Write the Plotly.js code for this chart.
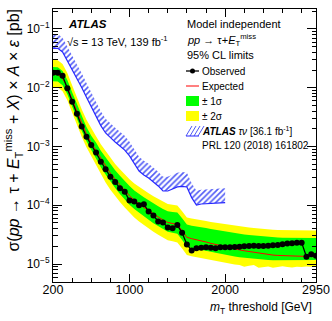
<!DOCTYPE html>
<html>
<head>
<meta charset="utf-8">
<script src="https://cdn.plot.ly/plotly-3.0.1.min.js"></script>
<style>
  html, body { margin: 0; padding: 0; background: white; }
  #chart { width: 332px; height: 321px; }
</style>
</head>
<body>
<div id="chart"></div>
<script>
// mT thresholds [GeV]
const mt_threshold = [
    200, 250, 300, 350, 400, 450, 500, 550, 600, 650,
    700, 750, 800, 850, 900, 950, 1000, 1050, 1100, 1150,
    1200, 1250, 1300, 1350, 1400, 1450, 1500, 1550, 1600, 1650,
    1700, 1750, 1800, 1850, 1900, 1950, 2000, 2050, 2100, 2150,
    2200, 2250, 2300, 2350, 2400, 2450, 2500, 2550, 2600, 2650,
    2700, 2750, 2800, 2850, 2900, 2950
];

// observed 95% CL limit [pb]
const observed = [
    1.80e-2, 1.80e-2, 1.60e-2, 9.8e-3, 5.8e-3, 3.6e-3, 2.2e-3, 1.47e-3, 1.06e-3, 7.9e-4,
    5.5e-4, 4.1e-4, 3.06e-4, 2.5e-4, 1.94e-4, 1.7e-4, 1.2e-4, 1.16e-4, 1.0e-4, 1.04e-4,
    7.8e-5, 6.7e-5, 5.3e-5, 5.1e-5, 4.2e-5, 4.05e-5, 4.6e-5, 3.4e-5, 2.15e-5, 1.7e-5,
    1.86e-5, 1.9e-5, 1.92e-5, 1.9e-5, 1.86e-5, 1.92e-5, 1.92e-5, 1.92e-5, 1.94e-5, 1.97e-5,
    2.0e-5, 2.02e-5, 2.04e-5, 2.02e-5, 2.03e-5, 2.05e-5, 2.08e-5, 2.11e-5, 2.16e-5, 2.24e-5,
    2.25e-5, 2.3e-5, 2.31e-5, 1.33e-5, 1.46e-5, 1.38e-5
];

// expected limit and its bands [pb]
const expected = [
    1.70e-2, 1.68e-2, 1.45e-2, 1.02e-2, 6.3e-3, 3.9e-3, 2.45e-3, 1.62e-3, 1.15e-3, 8.5e-4,
    6.1e-4, 4.6e-4, 3.5e-4, 2.75e-4, 2.2e-4, 1.78e-4, 1.45e-4, 1.22e-4, 1.05e-4, 9.2e-5,
    8.1e-5, 7.1e-5, 6.3e-5, 5.6e-5, 5.1e-5, 4.9e-5, 4.7e-5, 3.7e-5, 2.85e-5, 2.7e-5,
    2.6e-5, 2.48e-5, 2.37e-5, 2.25e-5, 2.15e-5, 2.05e-5, 1.95e-5, 1.87e-5, 1.8e-5, 1.74e-5,
    1.68e-5, 1.63e-5, 1.58e-5, 1.53e-5, 1.48e-5, 1.45e-5, 1.42e-5, 1.4e-5, 1.39e-5, 1.38e-5,
    1.37e-5, 1.36e-5, 1.35e-5, 1.34e-5, 1.34e-5, 1.33e-5
];
const plus2 = [
    2.98e-2, 2.94e-2, 2.54e-2, 1.79e-2, 1.10e-2, 6.8e-3, 4.3e-3, 2.84e-3, 2.01e-3, 1.50e-3,
    1.09e-3, 8.3e-4, 6.4e-4, 5.05e-4, 4.1e-4, 3.35e-4, 2.76e-4, 2.34e-4, 2.04e-4, 1.80e-4,
    1.6e-4, 1.42e-4, 1.27e-4, 1.14e-4, 1.05e-4, 1.02e-4, 9.9e-5, 7.9e-5, 6.2e-5, 5.95e-5,
    5.8e-5, 5.6e-5, 5.4e-5, 5.2e-5, 5.05e-5, 4.88e-5, 4.7e-5, 4.56e-5, 4.45e-5, 4.35e-5,
    4.25e-5, 4.17e-5, 4.09e-5, 4.0e-5, 3.92e-5, 3.87e-5, 3.82e-5, 3.8e-5, 3.78e-5, 3.77e-5,
    3.76e-5, 3.75e-5, 3.74e-5, 3.73e-5, 3.74e-5, 3.72e-5
];
const plus1 = [
    2.26e-2, 2.23e-2, 1.93e-2, 1.36e-2, 8.4e-3, 5.2e-3, 3.26e-3, 2.15e-3, 1.53e-3, 1.17e-3,
    8.5e-4, 6.5e-4, 4.97e-4, 3.93e-4, 3.17e-4, 2.58e-4, 2.12e-4, 1.79e-4, 1.55e-4, 1.37e-4,
    1.22e-4, 1.07e-4, 9.6e-5, 8.6e-5, 7.9e-5, 7.7e-5, 7.5e-5, 6.0e-5, 4.7e-5, 4.5e-5,
    4.4e-5, 4.25e-5, 4.1e-5, 3.94e-5, 3.81e-5, 3.67e-5, 3.53e-5, 3.42e-5, 3.33e-5, 3.25e-5,
    3.18e-5, 3.11e-5, 3.05e-5, 2.98e-5, 2.92e-5, 2.88e-5, 2.84e-5, 2.82e-5, 2.81e-5, 2.8e-5,
    2.79e-5, 2.79e-5, 2.78e-5, 2.77e-5, 2.78e-5, 2.77e-5
];
const minus1 = [
    1.29e-2, 1.28e-2, 1.10e-2, 7.75e-3, 4.8e-3, 2.96e-3, 1.86e-3, 1.23e-3, 8.7e-4, 6.3e-4,
    4.45e-4, 3.33e-4, 2.5e-4, 1.96e-4, 1.56e-4, 1.26e-4, 1.02e-4, 8.6e-5, 7.4e-5, 6.45e-5,
    5.65e-5, 4.95e-5, 4.4e-5, 3.9e-5, 3.55e-5, 3.4e-5, 3.27e-5, 2.57e-5, 1.98e-5, 1.88e-5,
    1.82e-5, 1.75e-5, 1.68e-5, 1.61e-5, 1.55e-5, 1.49e-5, 1.42e-5, 1.38e-5, 1.34e-5, 1.31e-5,
    1.28e-5, 1.25e-5, 1.23e-5, 1.21e-5, 1.18e-5, 1.17e-5, 1.16e-5, 1.16e-5, 1.17e-5, 1.17e-5,
    1.17e-5, 1.17e-5, 1.17e-5, 1.17e-5, 1.17e-5, 1.17e-5
];
const minus2 = [
    1.02e-2, 1.01e-2, 8.7e-3, 6.1e-3, 3.8e-3, 2.34e-3, 1.47e-3, 9.7e-4, 6.9e-4, 4.8e-4,
    3.3e-4, 2.45e-4, 1.84e-4, 1.43e-4, 1.14e-4, 9.2e-5, 7.4e-5, 6.2e-5, 5.3e-5, 4.6e-5,
    4.05e-5, 3.55e-5, 3.15e-5, 2.8e-5, 2.55e-5, 2.45e-5, 2.33e-5, 1.83e-5, 1.42e-5, 1.36e-5,
    1.31e-5, 1.26e-5, 1.22e-5, 1.17e-5, 1.13e-5, 1.09e-5, 1.04e-5, 1.01e-5, 9.8e-6, 9.6e-6,
    9.0e-6, 9.3e-6, 9.6e-6, 8.6e-6, 8.9e-6, 9.1e-6, 8.6e-6, 8.8e-6, 9.2e-6, 8.9e-6,
    8.7e-6, 9.0e-6, 8.9e-6, 9.1e-6, 8.9e-6, 8.9e-6
];

// previous ATLAS tau-nu result, 36.1 fb-1
const prev_threshold = [
    200, 250, 300, 350, 400, 450, 500, 550, 600, 650,
    700, 750, 800, 850, 900, 950, 1000, 1050, 1100, 1150,
    1200, 1250, 1300, 1350, 1400, 1450, 1500, 1550, 1600, 1650,
    1700, 1750, 1800, 1850, 1900, 1950, 2000
];
const prev_limit = [
    4.69e-2, 4.69e-2, 4.06e-2, 2.89e-2, 2.04e-2, 1.44e-2, 1.01e-2, 6.9e-3, 4.8e-3, 3.3e-3,
    2.27e-3, 1.7e-3, 1.4e-3, 1.19e-3, 1.02e-3, 8.7e-4, 6.9e-4, 5.0e-4, 3.83e-4, 3.27e-4,
    2.91e-4, 2.49e-4, 2.13e-4, 1.75e-4, 1.75e-4, 1.89e-4, 2.05e-4, 2.1e-4, 2.05e-4, 1.35e-4,
    1.01e-4, 1.05e-4, 1.07e-4, 1.08e-4, 1.09e-4, 1.1e-4, 1.11e-4
];

const x_tick_vals = [200, 1000, 2000, 2950];
const y_tick_vals = [1e-5, 1e-4, 1e-3, 1e-2, 1e-1];
const y_tick_text = ['10<sup>\u22125</sup>', '10<sup>\u22124</sup>', '10<sup>\u22123</sup>',
                     '10<sup>\u22122</sup>', '10<sup>\u22121</sup>'];

// style
const FONT = 'Liberation Sans, Arial, Helvetica, sans-serif';
const HATCH_WIDTH = 1.75;   // thickness of the hatched band (factor in y)
const BLUE = 'rgb(40,40,255)';
const HATCH = 'rgb(80,90,245)';

// plot frame in pixels, used to place text and legend
const L = 53, R = 316, T = 9, B = 282;
const px = x => (x - L) / (R - L);
const py = y => (B - y) / (B - T);

const plotly_update_dom = () => {

    const hatch_top = prev_limit.map(v => v * HATCH_WIDTH);

    const data = [
        // yellow band
        { x: mt_threshold, y: plus2, mode: 'lines', line: { width: 0 }, hoverinfo: 'skip' },
        { x: mt_threshold, y: minus2, mode: 'lines', line: { width: 0 },
          fill: 'tonexty', fillcolor: '#ffff00' },
        // green band
        { x: mt_threshold, y: plus1, mode: 'lines', line: { width: 0 } },
        { x: mt_threshold, y: minus1, mode: 'lines', line: { width: 0 },
          fill: 'tonexty', fillcolor: '#00ff00' },
        // expected
        { x: mt_threshold, y: expected, mode: 'lines', line: { color: '#ff0000', width: 1 } },
        // previous result, hatched
        { x: prev_threshold, y: hatch_top, mode: 'lines', line: { width: 0 } },
        { x: prev_threshold, y: prev_limit, mode: 'lines',
          line: { color: BLUE, width: 1.2 },
          fill: 'tonexty', fillcolor: 'rgba(0,0,0,0)',
          fillpattern: { shape: '/', fgcolor: HATCH, bgcolor: 'rgba(0,0,0,0)',
                         size: 4, solidity: 0.4 } },
        // observed
        { x: mt_threshold, y: observed, mode: 'lines+markers',
          line: { color: 'black', width: 1.3 },
          marker: { color: 'black', size: 6 } }
    ];

    // minor ticks
    const x_minor = [];
    for (let v = 400; v < 2950; v += 200) x_minor.push(v);
    const y_minor = [];
    for (let e = -6; e <= -1; ++e)
        for (let k = 2; k <= 9; ++k) y_minor.push(k * Math.pow(10, e));

    // legend symbols
    const shapes = [
        { type: 'line', xref: 'paper', yref: 'paper', x0: px(186), x1: px(199), y0: py(71), y1: py(71),
          line: { color: 'black', width: 1.3 } },
        { type: 'circle', xref: 'paper', yref: 'paper', x0: px(190), x1: px(195), y0: py(68.5), y1: py(73.5),
          fillcolor: 'black', line: { color: 'black', width: 0 } },
        { type: 'line', xref: 'paper', yref: 'paper', x0: px(186), x1: px(199), y0: py(86), y1: py(86),
          line: { color: '#ff0000', width: 1 } },
        { type: 'rect', xref: 'paper', yref: 'paper', x0: px(186), x1: px(199), y0: py(96), y1: py(106),
          fillcolor: '#00ff00', line: { width: 0 } },
        { type: 'rect', xref: 'paper', yref: 'paper', x0: px(186), x1: px(199), y0: py(111), y1: py(121),
          fillcolor: '#ffff00', line: { width: 0 } }
    ];
    // hatched legend symbol
    let hp = '';
    for (let s = 0; s < 4; ++s) {
        const x0 = 186 + s * 4;
        hp += `M${px(x0)},${py(136)} L${px(x0 + 6)},${py(126)} `;
    }
    shapes.push({ type: 'path', xref: 'paper', yref: 'paper', path: hp,
                  line: { color: HATCH, width: 1 } });
    shapes.push({ type: 'line', xref: 'paper', yref: 'paper', x0: px(186), x1: px(199), y0: py(136), y1: py(136),
                  line: { color: BLUE, width: 1 } });

    const ann = (x, y, text, size, extra) => Object.assign({
        xref: 'paper', yref: 'paper', x: px(x), y: py(y), text: text,
        showarrow: false, xanchor: 'left', yanchor: 'middle',
        font: { family: FONT, size: size, color: 'black' }
    }, extra || {});

    const annotations = [
        ann(66, 23.5, '<b><i>ATLAS</i></b>', 11.5),
        ann(65, 41, '\u221As = 13 TeV, 139 fb<sup>-1</sup>', 11),
        ann(185, 24, 'Model independent', 11),
        ann(185, 39.5, '<i>pp</i> \u2192 \u03C4+<i>E</i><sub>T</sub><sup>miss</sup>', 11),
        ann(185, 55, '95% CL limits', 11),
        ann(200, 71, 'Observed', 10),
        ann(200, 86, 'Expected', 10),
        ann(200, 101, '\u00B1 1\u03C3', 10),
        ann(200, 116, '\u00B1 2\u03C3', 10),
        ann(200, 131, '<b><i>ATLAS</i></b> <i>\u03C4\u03BD</i> [36.1 fb<sup>-1</sup>]', 10),
        ann(200, 145.5, 'PRL 120 (2018) 161802', 10),
        // axis titles
        ann(314, 307.5, '<i>m</i><sub>T</sub> threshold [GeV]', 12, { xanchor: 'right' }),
        ann(13, 7, '\u03C3(<i>pp</i> \u2192 \u03C4 + <i>E</i><sub>T</sub><sup>miss</sup> + <i>X</i>) \u00D7 <i>A</i> \u00D7 <i>\u03B5</i> [pb]',
            16, { textangle: -90, xanchor: 'center', yanchor: 'top' })
    ];

    const layout = {
        width: 332,
        height: 321,
        margin: { l: L, r: 332 - R, t: T, b: 321 - B, pad: 0 },
        paper_bgcolor: 'white',
        plot_bgcolor: 'white',
        showlegend: false,
        font: { family: FONT, size: 12, color: 'black' },
        xaxis: {
            range: [200, 2950],
            tickmode: 'array',
            tickvals: x_tick_vals,
            ticks: 'inside',
            ticklen: 8,
            tickcolor: 'black',
            tickfont: { size: 12.5 },
            ticklabelstandoff: -4,
            showline: true,
            linecolor: 'black',
            linewidth: 1,
            mirror: 'ticks',
            showgrid: false,
            zeroline: false,
            minor: { tickmode: 'array', tickvals: x_minor, ticks: 'inside', ticklen: 4,
                     tickcolor: 'black', showgrid: false }
        },
        yaxis: {
            type: 'log',
            range: [-5.306, -0.66],
            tickmode: 'array',
            tickvals: y_tick_vals,
            ticktext: y_tick_text,
            ticks: 'inside',
            ticklen: 9,
            tickcolor: 'black',
            tickfont: { size: 12 },
            showline: true,
            linecolor: 'black',
            linewidth: 1,
            mirror: 'ticks',
            showgrid: false,
            zeroline: false,
            minor: { tickmode: 'array', tickvals: y_minor, ticks: 'inside', ticklen: 4.5,
                     tickcolor: 'black', showgrid: false }
        },
        shapes: shapes,
        annotations: annotations
    };

    Plotly.newPlot('chart', data, layout, { staticPlot: true });
}

document.addEventListener("DOMContentLoaded", plotly_update_dom);
</script>
</body>
</html>
